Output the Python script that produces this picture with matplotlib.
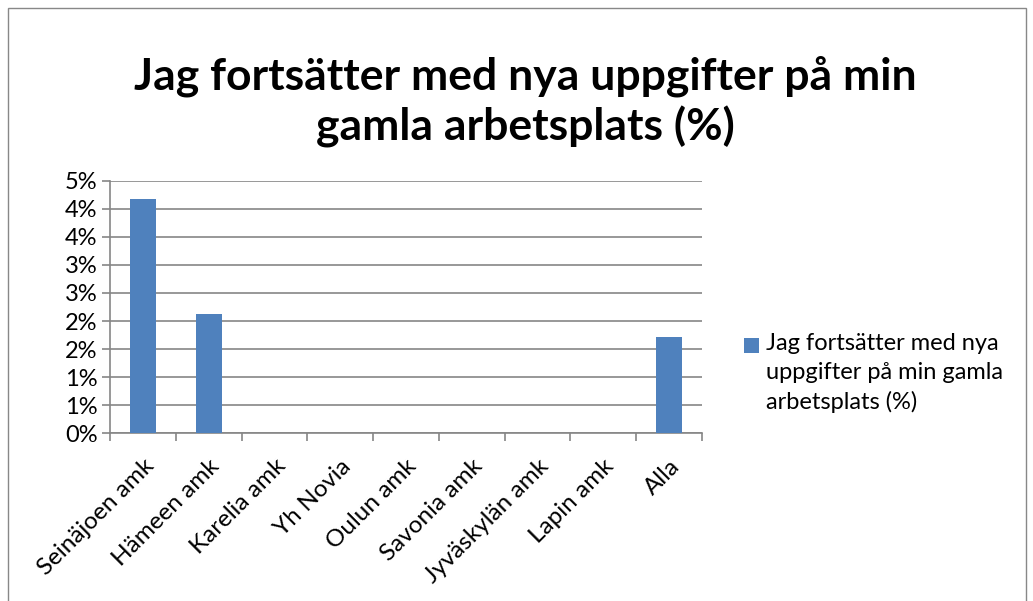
import matplotlib
matplotlib.use("Agg")
import matplotlib.pyplot as plt
from matplotlib.patches import Rectangle

categories = ["Seinäjoen amk", "Hämeen amk", "Karelia amk", "Yh Novia", "Oulun amk",
              "Savonia amk", "Jyväskylän amk", "Lapin amk", "Alla"]
values = [0.0417, 0.0213, 0, 0, 0, 0, 0, 0, 0.0171]
ytick_values = [0.0, 0.005, 0.01, 0.015, 0.02, 0.025, 0.03, 0.035, 0.04, 0.045]
ytick_labels = ["0%", "1%", "1%", "2%", "2%", "3%", "3%", "4%", "4%", "5%"]
series_name = "Jag fortsätter med nya\nuppgifter på min gamla\narbetsplats (%)"
title = "Jag fortsätter med nya uppgifter på min\ngamla arbetsplats (%)"
bar_color = "#4F81BD"

plt.rcParams['font.family'] = ['Lato', 'DejaVu Sans']
W, H = 1033, 601
fig = plt.figure(figsize=(W / 100, H / 100), dpi=100)

# chart frame
fig.patches.append(Rectangle((8 / W, -0.1), (1026 - 8) / W, 1.1 - 8 / H,
                             transform=fig.transFigure, fill=False,
                             edgecolor="#888888", linewidth=1))

ax = fig.add_axes([110 / W, 1 - 433.3 / H, (702 - 110) / W, (433.3 - 180.7) / H])
x = list(range(len(categories)))
ax.bar(x, values, width=0.4, color=bar_color, zorder=3)
ax.set_xlim(-0.5, len(categories) - 0.5)
ax.set_ylim(0, 0.045)
ax.set_yticks(ytick_values)
ax.set_yticklabels(ytick_labels, fontsize=17)
ax.yaxis.grid(True, color="#868686", linewidth=1.2, zorder=0)
ax.set_xticks(x)
ax.set_xticklabels(categories, rotation=45, ha="right", va="top",
                   rotation_mode="anchor", fontsize=17.5)
ax.set_xticks([i - 0.5 for i in range(len(categories) + 1)], minor=True)
ax.tick_params(axis="x", which="major", length=0, pad=16)
ax.tick_params(axis="x", which="minor", length=6, color="#868686", width=1.2)
ax.tick_params(axis="y", length=6, color="#868686", width=1.2, pad=3)
for s in ["top", "right"]:
    ax.spines[s].set_visible(False)
for s in ["left", "bottom"]:
    ax.spines[s].set_color("#868686")
    ax.spines[s].set_linewidth(1.2)

fig.text(525 / W, 1 - 102 / H, title, ha="center", va="center", fontsize=32,
         fontweight="bold", linespacing=1.25)

# legend
fig.patches.append(Rectangle((744 / W, 1 - 353 / H), 15 / W, 15 / H,
                             transform=fig.transFigure, facecolor=bar_color,
                             edgecolor="none"))
fig.text(766 / W, 1 - 333 / H, series_name, ha="left", va="top", fontsize=17,
         linespacing=1.45)

fig.savefig("out.png", dpi=100)
